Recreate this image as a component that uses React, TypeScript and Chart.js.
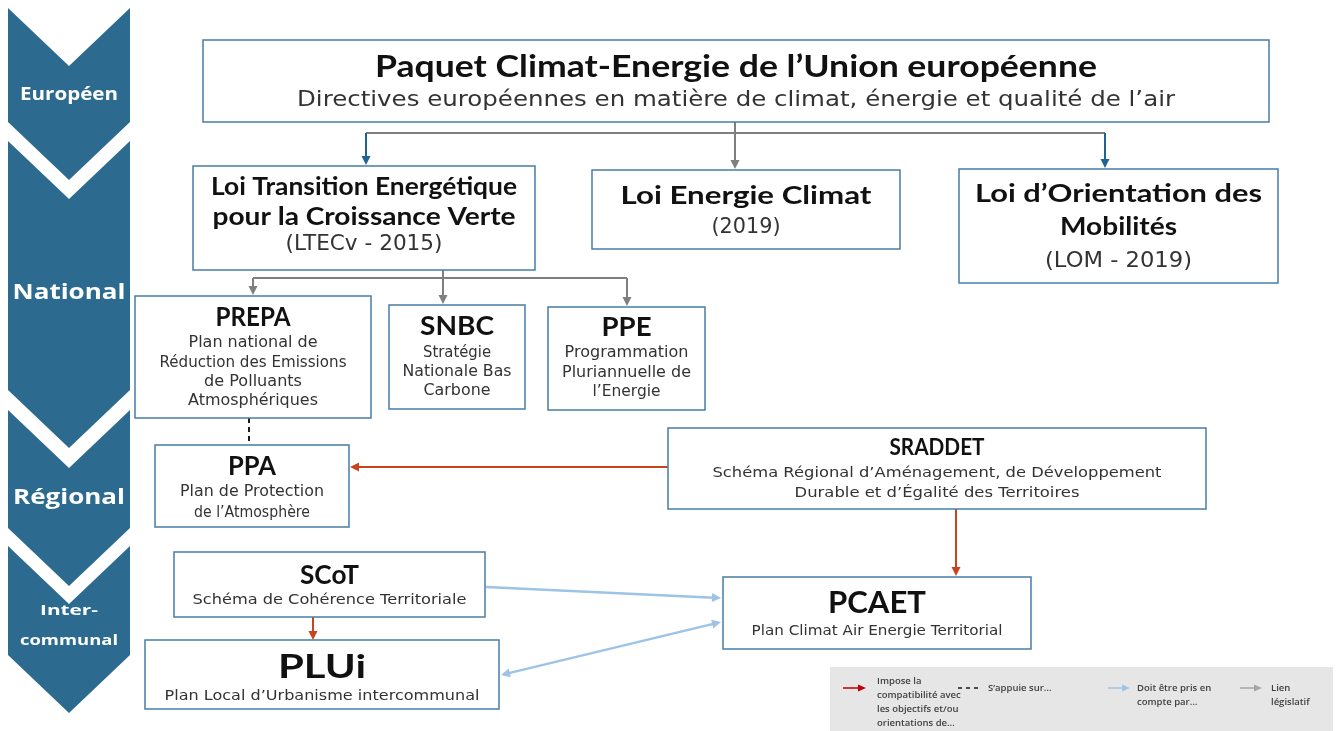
import { useEffect, useRef } from "react";
import { Chart, registerables } from "chart.js";
Chart.register(...registerables);

// ---------- DATA ----------
const levelNames: string[][] = [["Européen"], ["National"], ["Régional"], ["Inter-", "communal"]];

const nodeIds = ["paquet", "ltecv", "lec", "lom", "prepa", "snbc", "ppe", "ppa", "sraddet", "scot", "plui", "pcaet"];
const nodeTitles: string[][] = [
  ["Paquet Climat-Energie de l’Union européenne"],
  ["Loi Transition Energétique", "pour la Croissance Verte"],
  ["Loi Energie Climat"],
  ["Loi d’Orientation des", "Mobilités"],
  ["PREPA"],
  ["SNBC"],
  ["PPE"],
  ["PPA"],
  ["SRADDET"],
  ["SCoT"],
  ["PLUi"],
  ["PCAET"],
];
const nodeSubtitles: string[][] = [
  ["Directives européennes en matière de climat, énergie et qualité de l’air"],
  ["(LTECv - 2015)"],
  ["(2019)"],
  ["(LOM - 2019)"],
  ["Plan national de", "Réduction des Emissions", "de Polluants", "Atmosphériques"],
  ["Stratégie", "Nationale Bas", "Carbone"],
  ["Programmation", "Pluriannuelle de", "l’Energie"],
  ["Plan de Protection", "de l’Atmosphère"],
  ["Schéma Régional d’Aménagement, de Développement", "Durable et d’Égalité des Territoires"],
  ["Schéma de Cohérence Territoriale"],
  ["Plan Local d’Urbanisme intercommunal"],
  ["Plan Climat Air Energie Territorial"],
];

const linkFrom = ["paquet", "paquet", "paquet", "ltecv", "ltecv", "ltecv", "prepa", "sraddet", "sraddet", "scot", "scot", "plui"];
const linkTo = ["ltecv", "lec", "lom", "prepa", "snbc", "ppe", "ppa", "ppa", "pcaet", "plui", "pcaet", "pcaet"];
const linkKind = ["legislatif", "legislatif", "legislatif", "legislatif", "legislatif", "legislatif", "appuie", "impose", "impose", "impose", "compte", "compte2"];

const legendKinds = ["impose", "appuie", "compte", "legislatif"];
const legendTexts: string[][] = [
  ["Impose la", "compatibilité avec", "les objectifs et/ou", "orientations de…"],
  ["S’appuie sur…"],
  ["Doit être pris en", "compte par…"],
  ["Lien", "législatif"],
];

// ---------- LAYOUT & STYLE ----------
const W = 1336;
const H = 731;
const levelSpans = [[8, 122], [141, 390], [410, 528], [546, 655]];
const chevronX = [8, 130];
const chevronDepth = 58;
const levelTextY = [[95], [293], [498], [611, 641]];
const levelTextW = [[98], [113], [112], [58, 98]];
const levelFont = [17, 22, 22, 15];

const nodeBoxes = [
  [203, 40, 1269, 122], [193, 166, 535, 270], [592, 170, 900, 249], [959, 169, 1278, 283],
  [135, 296, 371, 418], [389, 305, 525, 409], [548, 307, 705, 410], [155, 445, 349, 527],
  [668, 428, 1206, 509], [174, 552, 485, 617], [145, 640, 499, 709], [723, 577, 1031, 649],
];
const nodeTitleY = [[67], [187, 217], [196], [194, 227], [318], [327], [328], [467], [448], [576], [667], [603]];
const nodeTitleW = [[722], [306, 303], [251], [287, 117], [75], [74], [50], [48], [95], [59], [88], [98]];
const nodeTitleSize = [30, 24, 24, 24, 26, 26, 26, 26, 23, 26, 33, 30];
const nodeSubY = [[100], [245], [228], [262], [343, 363, 382, 401], [353, 372, 391], [353, 373, 392], [492, 513], [473, 493], [600], [696], [631]];
const nodeSubW = [[878], [157], [69], [147], [129, 187, 98, 130], [68, 109, 67], [124, 129, 68], [144, 116], [449, 285], [274], [315], [251]];
const nodeSubSize = [22, 21, 21, 21, 15, 15, 15, 15, 14.5, 14.5, 14.5, 14.5];

const linkRoutes = [
  [[735, 122], [735, 133], [366, 133], [366, 165]],
  [[735, 122], [735, 133], [735, 169]],
  [[735, 122], [735, 133], [1105, 133], [1105, 168]],
  [[443, 270], [443, 278], [253, 278], [253, 295]],
  [[443, 270], [443, 278], [443, 304]],
  [[443, 270], [443, 278], [627, 278], [627, 306]],
  [[249, 418], [249, 445]],
  [[668, 467], [350, 467]],
  [[956, 509], [956, 576]],
  [[313, 617], [313, 640]],
  [[486, 587], [721, 598]],
  [[501, 675], [721, 622]],
];
const linkTipColor = ["#1f6391", null, "#1f6391", null, null, null, null, null, null, null, null, null];

const kindColor: Record<string, string> = {
  impose: "#c8441c",
  appuie: "#1a1a1a",
  compte: "#9dc3e6",
  compte2: "#9dc3e6",
  legislatif: "#7f7f7f",
};
const kindWidth: Record<string, number> = { impose: 2, appuie: 2, compte: 2.5, compte2: 2.5, legislatif: 2 };

const legendBox = [830, 667, 1333, 731];
const legendMarkX = [[843, 866], [958, 978], [1108, 1130], [1240, 1262]];
const legendMarkY = 688;
const legendTextX = [877, 988, 1137, 1271];
const legendTextY0 = [681, 688, 688, 688];
const legendLineH = 14;
const legendColor: Record<string, string> = { impose: "#c00000", appuie: "#1a1a1a", compte: "#9dc3e6", legislatif: "#a6a6a6" };

const CHEV_COLOR = "#2c6b8f";
const BOX_BORDER = "#477ea6";
const TITLE_FONT = "Lato, 'Open Sans', sans-serif";
const SUB_FONT = "'DejaVu Sans', sans-serif";

function drawFit(ctx: CanvasRenderingContext2D, text: string, cx: number, cy: number, font: string, w?: number) {
  ctx.font = font;
  const m = ctx.measureText(text).width;
  ctx.save();
  ctx.translate(cx, cy);
  if (w && m > 0) ctx.scale(w / m, 1);
  ctx.textAlign = "center";
  ctx.textBaseline = "middle";
  ctx.fillText(text, 0, 0);
  ctx.restore();
}

function arrowHead(ctx: CanvasRenderingContext2D, x1: number, y1: number, x2: number, y2: number, color: string, len = 9, half = 4.5) {
  const a = Math.atan2(y2 - y1, x2 - x1);
  ctx.save();
  ctx.fillStyle = color;
  ctx.beginPath();
  ctx.moveTo(x2, y2);
  ctx.lineTo(x2 - len * Math.cos(a) + half * Math.sin(a), y2 - len * Math.sin(a) - half * Math.cos(a));
  ctx.lineTo(x2 - len * Math.cos(a) - half * Math.sin(a), y2 - len * Math.sin(a) + half * Math.cos(a));
  ctx.closePath();
  ctx.fill();
  ctx.restore();
}

function shorten(x1: number, y1: number, x2: number, y2: number, d: number) {
  const L = Math.hypot(x2 - x1, y2 - y1) || 1;
  return [x2 - ((x2 - x1) / L) * d, y2 - ((y2 - y1) / L) * d];
}

const diagramPlugin = {
  id: "diagram",
  beforeDraw(chart: any) {
    const ctx = chart.ctx;
    ctx.save();
    ctx.fillStyle = "#ffffff";
    ctx.fillRect(0, 0, chart.width, chart.height);
    ctx.restore();
  },
  afterDraw(chart: any) {
    const ctx: CanvasRenderingContext2D = chart.ctx;
    const xs = chart.scales.x;
    const ys = chart.scales.y;
    const X = (v: number) => xs.getPixelForValue(v);
    const Y = (v: number) => ys.getPixelForValue(v);
    const DX = (a: number) => X(a) - X(0);

    // chevrons
    levelNames.forEach((lines, i) => {
      const [t, b] = levelSpans[i];
      const xc = (chevronX[0] + chevronX[1]) / 2;
      ctx.save();
      ctx.fillStyle = CHEV_COLOR;
      ctx.beginPath();
      ctx.moveTo(X(chevronX[0]), Y(t));
      ctx.lineTo(X(xc), Y(t + chevronDepth));
      ctx.lineTo(X(chevronX[1]), Y(t));
      ctx.lineTo(X(chevronX[1]), Y(b));
      ctx.lineTo(X(xc), Y(b + chevronDepth));
      ctx.lineTo(X(chevronX[0]), Y(b));
      ctx.closePath();
      ctx.fill();
      ctx.fillStyle = "#ffffff";
      lines.forEach((s, j) => {
        drawFit(ctx, s, X(xc), Y(levelTextY[i][j]), `700 ${levelFont[i]}px 'Open Sans', sans-serif`, DX(levelTextW[i][j]));
      });
      ctx.restore();
    });

    // links
    linkKind.forEach((kind, i) => {
      const pts = linkRoutes[i].map(([x, y]) => [X(x), Y(y)]);
      const col = kindColor[kind];
      ctx.save();
      ctx.lineWidth = kindWidth[kind];
      ctx.lineCap = "butt";
      if (kind === "appuie") {
        ctx.setLineDash([5, 4]);
        ctx.strokeStyle = col;
        ctx.beginPath();
        ctx.moveTo(pts[0][0], pts[0][1]);
        for (let k = 1; k < pts.length; k++) ctx.lineTo(pts[k][0], pts[k][1]);
        ctx.stroke();
        ctx.restore();
        return;
      }
      if (pts.length > 2) {
        ctx.strokeStyle = col;
        ctx.beginPath();
        ctx.moveTo(pts[0][0], pts[0][1]);
        for (let k = 1; k < pts.length - 1; k++) ctx.lineTo(pts[k][0], pts[k][1]);
        ctx.stroke();
      }
      const tip = linkTipColor[i] || col;
      const n = pts.length;
      let [sx, sy] = pts[n - 2];
      const [ex, ey] = pts[n - 1];
      const [lx, ly] = shorten(sx, sy, ex, ey, 7);
      if (kind === "compte2") {
        [sx, sy] = shorten(ex, ey, sx, sy, 7);
      }
      ctx.strokeStyle = tip;
      ctx.beginPath();
      ctx.moveTo(sx, sy);
      ctx.lineTo(lx, ly);
      ctx.stroke();
      arrowHead(ctx, pts[n - 2][0], pts[n - 2][1], ex, ey, tip);
      if (kind === "compte2") arrowHead(ctx, ex, ey, pts[n - 2][0], pts[n - 2][1], tip);
      ctx.restore();
    });

    // boxes
    nodeIds.forEach((_id, i) => {
      const [x0, y0, x1, y1] = nodeBoxes[i];
      const cx = X((x0 + x1) / 2);
      ctx.save();
      ctx.fillStyle = "#ffffff";
      ctx.fillRect(X(x0), Y(y0), DX(x1 - x0), Y(y1) - Y(y0));
      ctx.strokeStyle = BOX_BORDER;
      ctx.lineWidth = 1.5;
      ctx.strokeRect(X(x0), Y(y0), DX(x1 - x0), Y(y1) - Y(y0));
      ctx.fillStyle = "#111111";
      nodeTitles[i].forEach((s, j) => {
        drawFit(ctx, s, cx, Y(nodeTitleY[i][j]), `700 ${nodeTitleSize[i]}px ${TITLE_FONT}`, DX(nodeTitleW[i][j]));
      });
      ctx.fillStyle = "#333333";
      nodeSubtitles[i].forEach((s, j) => {
        drawFit(ctx, s, cx, Y(nodeSubY[i][j]), `400 ${nodeSubSize[i]}px ${SUB_FONT}`, DX(nodeSubW[i][j]));
      });
      ctx.restore();
    });

    // legend
    ctx.save();
    ctx.fillStyle = "#e7e6e6";
    ctx.fillRect(X(legendBox[0]), Y(legendBox[1]), DX(legendBox[2] - legendBox[0]), Y(legendBox[3]) - Y(legendBox[1]));
    legendKinds.forEach((kind, i) => {
      const [a, b] = legendMarkX[i];
      const col = legendColor[kind];
      const y = Y(legendMarkY);
      ctx.save();
      ctx.strokeStyle = col;
      ctx.lineWidth = 1.5;
      if (kind === "appuie") {
        ctx.setLineDash([4, 4]);
        ctx.beginPath();
        ctx.moveTo(X(a), y);
        ctx.lineTo(X(b), y);
        ctx.stroke();
      } else {
        ctx.beginPath();
        ctx.moveTo(X(a), y);
        ctx.lineTo(X(b) - 6, y);
        ctx.stroke();
        arrowHead(ctx, X(a), y, X(b), y, col, 8, 3.5);
      }
      ctx.restore();
      ctx.fillStyle = "#404040";
      ctx.font = "600 9.5px 'Open Sans', sans-serif";
      ctx.textAlign = "left";
      ctx.textBaseline = "middle";
      legendTexts[i].forEach((s, j) => {
        ctx.fillText(s, X(legendTextX[i]), Y(legendTextY0[i] + j * legendLineH));
      });
    });
    ctx.restore();
  },
};

export default function App() {
  const ref = useRef<HTMLCanvasElement | null>(null);
  useEffect(() => {
    document.body.style.margin = "0";
    if (!ref.current) return;
    const centers = nodeBoxes.map(([x0, y0, x1, y1]) => ({ x: (x0 + x1) / 2, y: (y0 + y1) / 2 }));
    const chart = new Chart(ref.current, {
      type: "scatter",
      data: { datasets: [{ label: "nodes", data: centers, pointRadius: 0, pointHoverRadius: 0 }] },
      options: {
        responsive: false,
        animation: false,
        layout: { padding: 0 },
        events: [],
        scales: {
          x: { type: "linear", min: 0, max: W, display: false },
          y: { type: "linear", min: 0, max: H, reverse: true, display: false },
        },
        plugins: { legend: { display: false }, tooltip: { enabled: false } },
      },
      plugins: [diagramPlugin],
    });
    return () => chart.destroy();
  }, []);
  return (
    <div style={{ position: "absolute", left: 0, top: 0, width: W, height: H, background: "#fff" }}>
      <canvas ref={ref} width={W} height={H} style={{ display: "block" }} />
    </div>
  );
}
